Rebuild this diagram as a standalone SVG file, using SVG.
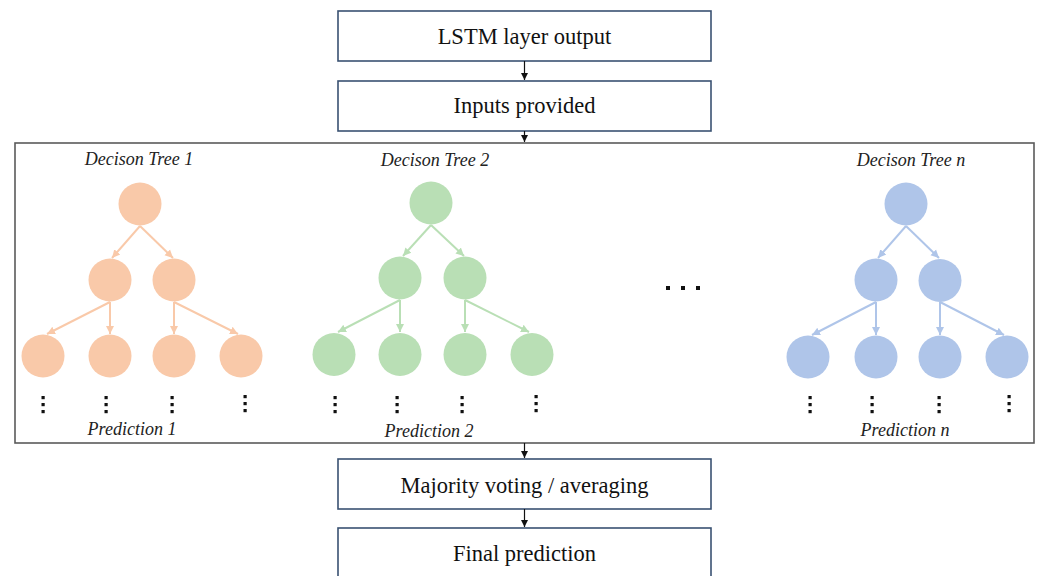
<svg xmlns="http://www.w3.org/2000/svg" width="1038" height="576" viewBox="0 0 1038 576">
<style>
.box{fill:#fff;stroke:#3a5272;stroke-width:1.6}
.frame{fill:none;stroke:#5a5a5a;stroke-width:1.6}
.bt{font-family:"Liberation Serif",serif;font-size:22.5px;fill:#111;text-anchor:middle}
.it{font-family:"Liberation Serif",serif;font-size:18px;font-style:italic;fill:#222;text-anchor:middle}
.o{fill:#f9c9a9}.g{fill:#b9dfb5}.b{fill:#afc5e9}
.eo{stroke:#f9c9a9;stroke-width:2;fill:none;marker-end:url(#ao)}
.eg{stroke:#b9dfb5;stroke-width:2;fill:none;marker-end:url(#ag)}
.eb{stroke:#afc5e9;stroke-width:2;fill:none;marker-end:url(#ab)}
.ek{stroke:#111;stroke-width:1.2;fill:none;marker-end:url(#ak)}
.d{fill:#111}
</style>
<defs>
<marker id="ak" markerUnits="userSpaceOnUse" markerWidth="8" markerHeight="8" refX="7" refY="4" orient="auto"><path d="M0,0.5 L7,4 L0,7.5 Z" fill="#111"/></marker>
<marker id="ao" markerUnits="userSpaceOnUse" markerWidth="10" markerHeight="10" refX="8" refY="5" orient="auto"><path d="M0,1 L8,5 L0,9 Z" fill="#f9c9a9"/></marker>
<marker id="ag" markerUnits="userSpaceOnUse" markerWidth="10" markerHeight="10" refX="8" refY="5" orient="auto"><path d="M0,1 L8,5 L0,9 Z" fill="#b9dfb5"/></marker>
<marker id="ab" markerUnits="userSpaceOnUse" markerWidth="10" markerHeight="10" refX="8" refY="5" orient="auto"><path d="M0,1 L8,5 L0,9 Z" fill="#afc5e9"/></marker>
</defs>
<rect width="1038" height="576" fill="#fff"/>

<g id="ensemble-frame"><rect class="frame" x="15" y="143" width="1019" height="300"/></g>

<g id="lstm"><rect class="box" x="338" y="11" width="373" height="50"/><text class="bt" x="524.5" y="44">LSTM layer output</text></g>
<g id="inputs"><rect class="box" x="338" y="81" width="373" height="50"/><text class="bt" x="524.5" y="113">Inputs provided</text></g>
<g id="voting"><rect class="box" x="338" y="459" width="373" height="50"/><text class="bt" x="524.5" y="493">Majority voting / averaging</text></g>
<g id="final"><rect class="box" x="338" y="528" width="373" height="52"/><text class="bt" x="524.5" y="561">Final prediction</text></g>

<g id="connectors">
<line class="ek" x1="524.5" y1="61" x2="524.5" y2="80"/>
<line class="ek" x1="524.5" y1="131" x2="524.5" y2="142"/>
<line class="ek" x1="524.5" y1="443" x2="524.5" y2="458"/>
<line class="ek" x1="524.5" y1="509" x2="524.5" y2="527"/>
<!-- tree 1 -->
<line class="eo" x1="140" y1="226" x2="112" y2="258"/>
<line class="eo" x1="140" y1="226" x2="173" y2="258"/>
<line class="eo" x1="110" y1="302" x2="47" y2="334"/>
<line class="eo" x1="110" y1="302" x2="110" y2="334"/>
<line class="eo" x1="174" y1="302" x2="174" y2="334"/>
<line class="eo" x1="174" y1="302" x2="238" y2="334"/>
<!-- tree 2 -->
<line class="eg" x1="431" y1="225" x2="403" y2="256"/>
<line class="eg" x1="431" y1="225" x2="464" y2="256"/>
<line class="eg" x1="400" y1="300" x2="338" y2="332"/>
<line class="eg" x1="400" y1="300" x2="400" y2="332"/>
<line class="eg" x1="465" y1="300" x2="465" y2="332"/>
<line class="eg" x1="465" y1="300" x2="529" y2="332"/>
<!-- tree n -->
<line class="eb" x1="906" y1="226" x2="878" y2="258"/>
<line class="eb" x1="906" y1="226" x2="939" y2="258"/>
<line class="eb" x1="876" y1="302" x2="812" y2="335"/>
<line class="eb" x1="876" y1="302" x2="876" y2="335"/>
<line class="eb" x1="940" y1="302" x2="940" y2="335"/>
<line class="eb" x1="940" y1="302" x2="1004" y2="335"/>
</g>

<!-- Tree 1 -->
<g id="tree1-label"><text class="it" x="139" y="165">Decison Tree 1</text></g>
<g id="t1-root"><circle class="o" cx="140" cy="204" r="21.5"/></g>
<g id="t1-l"><circle class="o" cx="110" cy="280" r="21.5"/></g>
<g id="t1-r"><circle class="o" cx="174" cy="280" r="21.5"/></g>
<g id="t1-ll"><circle class="o" cx="43" cy="356" r="21.5"/></g>
<g id="t1-lr"><circle class="o" cx="110" cy="356" r="21.5"/></g>
<g id="t1-rl"><circle class="o" cx="174" cy="356" r="21.5"/></g>
<g id="t1-rr"><circle class="o" cx="241" cy="356" r="21.5"/></g>
<g id="t1-dots">
<rect class="d" x="41.5" y="396" width="3.2" height="3.2"/><rect class="d" x="41.5" y="403" width="3.2" height="3.2"/><rect class="d" x="41.5" y="410" width="3.2" height="3.2"/>
<rect class="d" x="104.5" y="396" width="3.2" height="3.2"/><rect class="d" x="104.5" y="403" width="3.2" height="3.2"/><rect class="d" x="104.5" y="410" width="3.2" height="3.2"/>
<rect class="d" x="170.5" y="396" width="3.2" height="3.2"/><rect class="d" x="170.5" y="403" width="3.2" height="3.2"/><rect class="d" x="170.5" y="410" width="3.2" height="3.2"/>
<rect class="d" x="243.5" y="395" width="3.2" height="3.2"/><rect class="d" x="243.5" y="402" width="3.2" height="3.2"/><rect class="d" x="243.5" y="409" width="3.2" height="3.2"/>
</g>
<g id="pred1"><text class="it" x="132" y="435">Prediction 1</text></g>

<!-- Tree 2 -->
<g id="tree2-label"><text class="it" x="435" y="166">Decison Tree 2</text></g>
<g id="t2-root"><circle class="g" cx="431" cy="203" r="21.5"/></g>
<g id="t2-l"><circle class="g" cx="400" cy="278" r="21.5"/></g>
<g id="t2-r"><circle class="g" cx="465" cy="278" r="21.5"/></g>
<g id="t2-ll"><circle class="g" cx="334" cy="354.5" r="21.5"/></g>
<g id="t2-lr"><circle class="g" cx="400" cy="354.5" r="21.5"/></g>
<g id="t2-rl"><circle class="g" cx="465" cy="354.5" r="21.5"/></g>
<g id="t2-rr"><circle class="g" cx="532" cy="354.5" r="21.5"/></g>
<g id="t2-dots">
<rect class="d" x="333.5" y="396" width="3.2" height="3.2"/><rect class="d" x="333.5" y="403" width="3.2" height="3.2"/><rect class="d" x="333.5" y="410" width="3.2" height="3.2"/>
<rect class="d" x="395.5" y="396" width="3.2" height="3.2"/><rect class="d" x="395.5" y="403" width="3.2" height="3.2"/><rect class="d" x="395.5" y="410" width="3.2" height="3.2"/>
<rect class="d" x="460.5" y="396" width="3.2" height="3.2"/><rect class="d" x="460.5" y="403" width="3.2" height="3.2"/><rect class="d" x="460.5" y="410" width="3.2" height="3.2"/>
<rect class="d" x="534.5" y="395" width="3.2" height="3.2"/><rect class="d" x="534.5" y="402" width="3.2" height="3.2"/><rect class="d" x="534.5" y="409" width="3.2" height="3.2"/>
</g>
<g id="pred2"><text class="it" x="429" y="437">Prediction 2</text></g>

<!-- ellipsis -->
<g id="ellipsis">
<rect class="d" x="666" y="286" width="4" height="4"/><rect class="d" x="681" y="286" width="4" height="4"/><rect class="d" x="696" y="286" width="4" height="4"/>
</g>

<!-- Tree n -->
<g id="treen-label"><text class="it" x="911" y="166">Decison Tree n</text></g>
<g id="tn-root"><circle class="b" cx="906" cy="204" r="21.5"/></g>
<g id="tn-l"><circle class="b" cx="876" cy="280" r="21.5"/></g>
<g id="tn-r"><circle class="b" cx="940" cy="280.5" r="21.5"/></g>
<g id="tn-ll"><circle class="b" cx="808" cy="357" r="21.5"/></g>
<g id="tn-lr"><circle class="b" cx="876" cy="357" r="21.5"/></g>
<g id="tn-rl"><circle class="b" cx="940" cy="357" r="21.5"/></g>
<g id="tn-rr"><circle class="b" cx="1007" cy="357" r="21.5"/></g>
<g id="tn-dots">
<rect class="d" x="808.5" y="396" width="3.2" height="3.2"/><rect class="d" x="808.5" y="403" width="3.2" height="3.2"/><rect class="d" x="808.5" y="410" width="3.2" height="3.2"/>
<rect class="d" x="870.5" y="396" width="3.2" height="3.2"/><rect class="d" x="870.5" y="403" width="3.2" height="3.2"/><rect class="d" x="870.5" y="410" width="3.2" height="3.2"/>
<rect class="d" x="937.5" y="396" width="3.2" height="3.2"/><rect class="d" x="937.5" y="403" width="3.2" height="3.2"/><rect class="d" x="937.5" y="410" width="3.2" height="3.2"/>
<rect class="d" x="1007.5" y="395" width="3.2" height="3.2"/><rect class="d" x="1007.5" y="402" width="3.2" height="3.2"/><rect class="d" x="1007.5" y="409" width="3.2" height="3.2"/>
</g>
<g id="predn"><text class="it" x="905" y="436">Prediction n</text></g>
</svg>
